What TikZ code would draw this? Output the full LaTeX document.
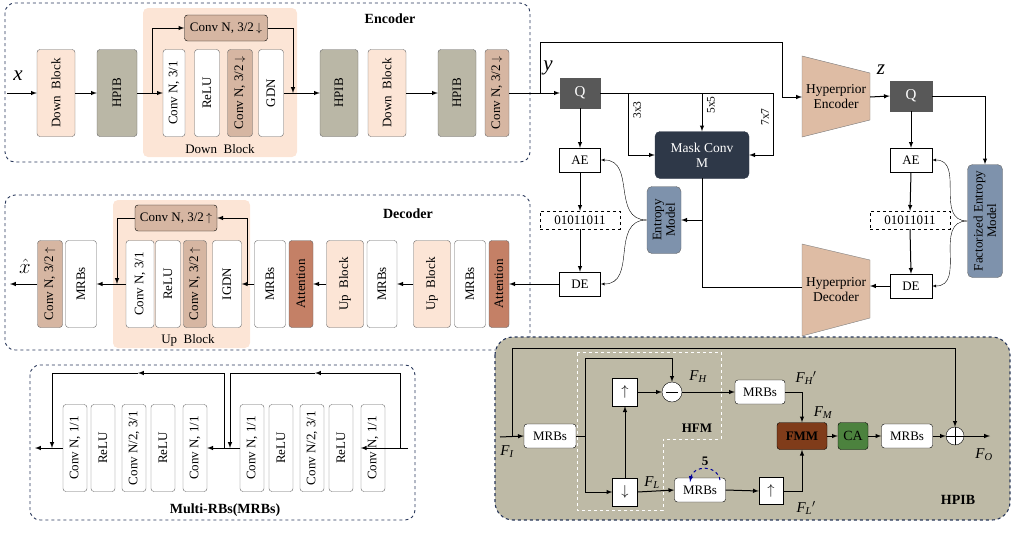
\documentclass[tikz,border=0pt]{standalone}
\usepackage{fontspec}
\setmainfont{Liberation Serif}
\usetikzlibrary{arrows,positioning}
\definecolor{peach}{RGB}{252,229,214}
\definecolor{conv}{RGB}{214,182,162}
\definecolor{olive}{RGB}{186,183,166}
\definecolor{attn}{RGB}{196,128,102}
\definecolor{ent}{RGB}{126,146,172}
\definecolor{mask}{RGB}{46,56,72}
\definecolor{qbox}{RGB}{88,88,88}
\definecolor{hpibbg}{RGB}{190,186,166}
\definecolor{fmm}{RGB}{128,60,26}
\definecolor{ca}{RGB}{76,130,62}
\definecolor{trap}{RGB}{222,188,164}
\definecolor{frame}{RGB}{40,55,90}
\tikzset{
  vb/.style={draw=gray!80!black, rounded corners=3pt, rotate=90, minimum width=87pt, minimum height=#1, inner sep=1pt, font=\fontsize{13}{13.5}\selectfont, fill=white},
  vb/.default=25pt,
  hb/.style={draw, minimum width=#1, minimum height=24pt, inner sep=1pt, font=\fontsize{13}{13.5}\selectfont, fill=white},
  hb/.default=41pt,
  ar/.style={-latex, line width=1pt},
  ln/.style={line width=1pt},
  thin ar/.style={-latex, line width=0.4pt},
  frm/.style={draw=frame, dashed, rounded corners=10pt, line width=0.9pt},
  ttl/.style={font=\bfseries\fontsize{14}{15}\selectfont},
  lbl/.style={font=\itshape\fontsize{15}{16}\selectfont},
  big/.style={font=\itshape\fontsize{21}{22}\selectfont},
}
\begin{document}
\begin{tikzpicture}[x=1pt,y=-1pt]
\useasboundingbox (0,0) rectangle (1016,546);
% Encoder
\draw[frm] (5,3) rectangle (530,162);
\node[ttl] at (390,19) {Encoder};
\fill[peach, rounded corners=5pt] (143,8) rectangle (297,157);
\node[font=\fontsize{13}{13.5}\selectfont] at (220,149) {Down\ \ Block};
\node[vb=38pt, fill=peach] (e1) at (56,93) {Down\ \ Block};
\node[vb=40pt, fill=olive] (e2) at (117,93) {HPIB};
\node[vb=22pt] (e3) at (174,93) {Conv N, 3/1};
\node[vb=25pt] (e4) at (207,93) {ReLU};
\node[vb=25pt, fill=conv] (e5) at (240,93) {Conv N, 3/2\,$\downarrow$};
\node[vb=25pt] (e6) at (271,93) {GDN};
\node[hb=83pt, fill=conv, rounded corners=3pt, minimum height=26pt] (et) at (226,28) {Conv N, 3/2\,$\downarrow$};
\node[vb=38pt, fill=olive] (e7) at (339,93) {HPIB};
\node[vb=38pt, fill=peach] (e8) at (387,93) {Down\ \ Block};
\node[vb=38pt, fill=olive] (e9) at (457,93) {HPIB};
\node[vb=24pt, fill=conv] (e10) at (497,93) {Conv N, 3/2\,$\downarrow$};
\coordinate (xin) at (7,93);
\draw[ar] (xin) -- (e1.north);
\node[big] at (18,76) {x};
\draw[ar] (e1.south) -- (e2.north);
\draw[ar] (e2.south) -- (e3.north);
\draw[ar] (152,93) |- (et.west);
\draw[ar] (et.east) -| (293,93);
\draw[ar] (e6.south) -- (e7.north);
\draw[ar] (e8.south) -- (e9.north);
% entropy part
\node[hb=40pt, fill=qbox, draw=qbox, text=white, minimum height=30pt, font=\fontsize{15}{16}\selectfont] (q1) at (580,93) {Q};
\draw[ar] (e10.south) -- (q1.west);
\node[big] at (548,68) {y};
\node[hb=94pt, fill=mask, draw=mask, rounded corners=5pt, minimum height=47pt, text=white, align=center, font=\fontsize{13.5}{15}\selectfont] (mc) at (702,155) {Mask Conv\\M};
\draw[ln] (q1.east) -- (773,93);
\draw[ar] (773,93) |- (mc.east);
\draw[ar] (628,93) |- (mc.west);
\draw[ar] (702,93) -- (mc.north);
\node[rotate=90, font=\fontsize{11.5}{12}\selectfont] at (637,110) {3x3};
\node[rotate=90, font=\fontsize{11.5}{12}\selectfont] at (711,105) {5x5};
\node[rotate=90, font=\fontsize{11.5}{12}\selectfont] at (765,117) {7x7};
\node[hb] (ae1) at (580,160) {AE};
\node[hb=80pt, dashed, minimum height=18pt] (bs1) at (580,220) {01011011};
\node[hb] (de1) at (580,284) {DE};
\draw[ar] (q1.south) -- (ae1.north);
\draw[ar] (ae1.south) -- (bs1.north);
\draw[ar] (bs1.south) -- (de1.north);
\node[vb=34pt, fill=ent, minimum width=67pt, rounded corners=5pt, align=center] (em) at (664,220) {Entropy\\Model};
\draw[ar] (702,178) -- (702,220) -- (em.south);
\draw[thin ar] (em.north) to[out=180,in=0,looseness=1.2] (ae1.east);
\draw[thin ar] (em.north) to[out=180,in=0,looseness=1.2] (de1.east);
% hyperprior
\fill[trap, draw=gray] (802,56) -- (870,73) -- (870,120) -- (802,137) -- cycle;
\node[align=center, font=\fontsize{13.5}{15}\selectfont] (he) at (836,97) {Hyperprior\\Encoder};
\draw[ln] (540,93) -- (540,42) -- (782,42);
\draw[ar] (782,42) |- (802,97);
\node[big] at (881,70) {z};
\node[hb=42pt, fill=qbox, draw=qbox, text=white, minimum height=30pt, font=\fontsize{15}{16}\selectfont] (q2) at (911,96) {Q};
\draw[ar] (870,97) -- (q2.west);
\node[hb=42pt] (ae2) at (911,160) {AE};
\node[hb=80pt, dashed, minimum height=18pt] (bs2) at (910,220) {01011011};
\node[hb=42pt] (de2) at (911,286) {DE};
\draw[ar] (q2.south) -- (ae2.north);
\draw[ar] (ae2.south) -- (bs2.north);
\draw[ar] (bs2.south) -- (de2.north);
\node[vb=35pt, fill=ent, minimum width=113pt, rounded corners=5pt, align=center] (fem) at (985,221) {Factorized Entropy\\Model};
\draw[ar] (q2.east) -| (fem.east);
\draw[thin ar] (fem.north) to[out=180,in=0,looseness=1.2] (ae2.east);
\draw[thin ar] (fem.north) to[out=180,in=0,looseness=1.2] (de2.east);
\fill[trap, draw=gray] (802,244) -- (870,260) -- (870,318) -- (802,336) -- cycle;
\node[align=center, font=\fontsize{13.5}{15}\selectfont] (hd) at (836,290) {Hyperprior\\Decoder};
\draw[ar] (de2.west) -- (870,286);
\draw[ln] (802,287) -| (702,220);
% Decoder
\draw[frm] (5,195) rectangle (530,350);
\node[ttl] at (408,214) {Decoder};
\fill[peach, rounded corners=5pt] (113,200) rectangle (250,348);
\node[font=\fontsize{13}{13.5}\selectfont] at (188,340) {Up\ \ Block};
\node[vb=25pt, fill=conv] (d1) at (50,284) {Conv N, 3/2\,$\uparrow$};
\node[vb=31pt] (d2) at (81,284) {MRBs};
\node[vb=28pt] (d3) at (140,284) {Conv N, 3/1};
\node[vb=25pt] (d4) at (168,284) {ReLU};
\node[vb=23pt, fill=conv] (d5) at (195,284) {Conv N, 3/2\,$\uparrow$};
\node[vb=29pt] (d6) at (227,284) {IGDN};
\node[hb=82pt, fill=conv, rounded corners=3pt, minimum height=26pt] (dt) at (176,218) {Conv N, 3/2\,$\uparrow$};
\node[vb=31pt] (d7) at (270,284) {MRBs};
\node[vb=24pt, fill=attn] (d8) at (301,284) {Attention};
\node[vb=37pt, fill=peach] (d9) at (345,284) {Up\ \ Block};
\node[vb=30pt] (d10) at (382,284) {MRBs};
\node[vb=37pt, fill=peach] (d11) at (432,284) {Up\ \ Block};
\node[vb=31pt] (d12) at (470,284) {MRBs};
\node[vb=20pt, fill=attn] (d13) at (499,284) {Attention};
\draw[ar] (de1.west) -- (d13.south);
\draw[ar] (d11.north) -- (d10.south);
\draw[ar] (d9.north) -- (d8.south);
\draw[ar] (d7.north) -- (d6.south);
\draw[ar] (247,284) |- (dt.east);
\draw[ar] (dt.west) -| (117,284);
\draw[ar] (d3.north) -- (d2.south);
\coordinate (xout) at (10,284);
\draw[ar] (d1.north) -- (xout);
\node[big] at (25,266) {$\hat{x}$};
% MRBs
\draw[frm] (30,365) rectangle (415,520);
\node[ttl] at (225,510) {Multi-RBs(MRBs)};
\foreach \n/\x/\t in {m1/75/{Conv N, 1/1}, m2/103/ReLU, m3/134/{Conv N/2, 3/1}, m4/163/ReLU, m5/195/{Conv N, 1/1}, m6/252/{Conv N, 1/1}, m7/281/ReLU, m8/312/{Conv N/2, 3/1}, m9/341/ReLU, m10/373/{Conv N, 1/1}}
  \node[vb=24pt] (\n) at (\x,448) {\t};
\coordinate (min) at (408,448);
\coordinate (mout) at (35,448);
\draw[ar] (min) -- (m10.north);
\draw[ar] (m6.north) -- (m5.south);
\draw[ar] (m1.north) -- (mout);
\draw[ar] (400,448) -- (400,373) -- (315,373);
\draw[ar] (315,373) -| (230,448);
\draw[ar] (224,448) -- (224,373) -- (138,373);
\draw[ar] (138,373) -| (52,448);
% HPIB
\draw[frm, fill=hpibbg, rounded corners=18pt, line width=1.1pt] (495,337) rectangle (1010,520);
\node[ttl] at (958,500) {HPIB};
\draw[white, dashed, line width=1pt] (577,352) -- (721,352) -- (721,439) -- (663,439) -- (663,510) -- (577,510) -- cycle;
\node[font=\bfseries\fontsize{13}{13.5}\selectfont] at (697,428) {HFM};
\node[hb=52pt, rounded corners=3pt] (h1) at (550,436) {MRBs};
\node[hb=50pt, rounded corners=3pt] (h2) at (760,392) {MRBs};
\node[hb=51pt, rounded corners=3pt] (h3) at (907,436) {MRBs};
\node[hb=51pt, rounded corners=3pt] (h4) at (700,490) {MRBs};
\node[hb=25pt, minimum height=28pt, font=\Large] (up1) at (625,392) {$\uparrow$};
\node[hb=25pt, minimum height=28pt, font=\Large] (dn) at (625,492) {$\downarrow$};
\node[hb=24pt, minimum height=27pt, font=\Large] (up2) at (771,491) {$\uparrow$};
\node[draw, circle, fill=white, minimum size=20pt, inner sep=0pt] (mi) at (672,392) {};
\draw[line width=1pt] (666,392) -- (678,392);
\node[draw, circle, fill=white, minimum size=18pt, inner sep=0pt] (pl) at (955,436) {};
\draw[line width=1pt] (pl.north) -- (pl.south) (pl.west) -- (pl.east);
\node[hb=50pt, minimum height=27pt, fill=fmm, rounded corners=3pt, font=\bfseries\fontsize{13}{13.5}\selectfont] (fm) at (802,436) {FMM};
\node[hb=30pt, minimum height=27pt, fill=ca, rounded corners=3pt, font=\fontsize{14}{15}\selectfont] (ca) at (853,436) {CA};
\coordinate (fin) at (500,437);
\coordinate (fout) at (990,436);
\draw[ar] (fin) -- (h1.west);
\draw[ar] (512,437) -- (512,348) -| (pl.north);
\draw[ln] (h1.east) -- (585,436);
\draw[ar] (585,436) |- (dn.west);
\draw[ar] (585,436) -- (585,358) -| (mi.north);
\draw[ar] (dn.north) -- (up1.south);
\draw[ar] (up1.east) -- (mi.west);
\draw[ar] (mi.east) -- (h2.west);
\draw[ar] (h2.east) -| (fm.north);
\draw[ar] (dn.east) -- (h4.west);
\draw[ar] (h4.east) -- (up2.west);
\draw[ar] (up2.east) -| (fm.south);
\draw[ar] (fm.east) -- (ca.west);
\draw[ar] (ca.east) -- (h3.west);
\draw[ar] (h3.east) -- (pl.west);
\draw[ar] (pl.east) -- (fout);
\draw[blue!60!black, dashed, line width=1pt, -latex] (720,480) to[out=100,in=80,looseness=1.4] (690,482);
\node[font=\bfseries\fontsize{13}{13.5}\selectfont] at (705,461) {5};
\node[lbl] at (507,452) {F\textsubscript{\itshape I}};
\node[lbl] at (698,377) {F\textsubscript{\itshape H}};
\node[lbl] at (806,378) {F\textsubscript{\itshape H}$'$};
\node[lbl] at (823,413) {F\textsubscript{\itshape M}};
\node[lbl] at (652,483) {F\textsubscript{\itshape L}};
\node[lbl] at (806,508) {F\textsubscript{\itshape L}$'$};
\node[lbl] at (984,455) {F\textsubscript{\itshape O}};
\end{tikzpicture}
\end{document}
